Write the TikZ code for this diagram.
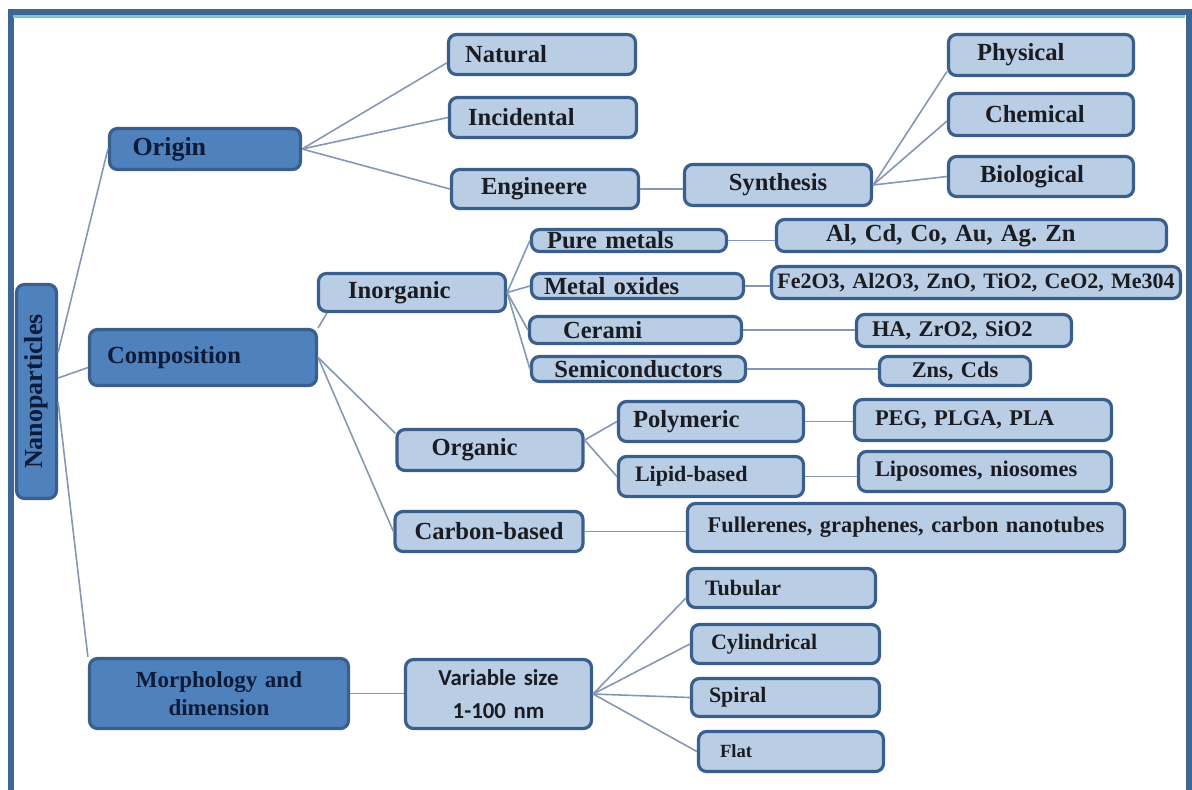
\documentclass[tikz,border=0pt]{standalone}
\usepackage{fontspec}
\setmainfont{Liberation Serif}
\newfontfamily\sanssub{Carlito}
\usepackage{tikz}
\usetikzlibrary{calc}
\frenchspacing

\definecolor{midblue}{HTML}{4F81BD}
\definecolor{paleblue}{HTML}{B9CDE5}
\definecolor{edgeblue}{HTML}{3B5F8C}
\definecolor{wireblue}{HTML}{8497B5}
\definecolor{framedark}{HTML}{3D6597}
\definecolor{frameteal}{HTML}{7EC4CE}
\definecolor{inkdark}{HTML}{1B1C22}
\definecolor{inknavy}{HTML}{0E1B38}

\begin{document}
\begin{tikzpicture}[x=0.5pt, y=-0.5pt,
    box/.style={draw=edgeblue, line width=1.6pt, rounded corners=4pt, inner sep=0pt,
        align=left, text=inkdark, font=\fontsize{12.3}{14}\selectfont\bfseries},
    leaf/.style={box, fill=paleblue},
    branch/.style={box, fill=midblue, text=inknavy},
    small/.style={font=\fontsize{11.2}{13}\selectfont\bfseries},
    wire/.style={draw=wireblue, line width=0.8pt}]
    \useasboundingbox (0,0) rectangle (1192,789);

    % Frame
    \draw[framedark, line width=3pt] (10.5,800) |- (1188.5,12) -- (1188.5,800);
    \draw[frameteal, line width=1.5pt] (13,16.5) -- (1185,16.5);

    % Main branches
    \node[branch, text width=20pt, minimum height=107pt, align=center,
        font=\fontsize{13}{15}\selectfont\bfseries] (np) at (36.5,391.5) {\rotatebox{90}{Nanoparticles}};
    \node[branch, text width=95.5pt, minimum height=20.5pt,
        font=\fontsize{13}{15}\selectfont\bfseries] (orig) at (205,149) {\hspace*{11.5pt}Origin};
    \node[branch, text width=113.5pt, minimum height=28pt] (comp) at (203,357.5) {\hspace*{8.75pt}Composition};
    \node[branch, text width=129.5pt, minimum height=35pt, align=center,
        font=\fontsize{11.5}{14}\selectfont\bfseries] (morph) at (219,693.5) {Morphology and\\dimension};

    % Origin
    \node[leaf, text width=93.5pt, minimum height=20pt] (nat) at (542,54.5) {\hspace*{8.25pt}Natural};
    \node[leaf, text width=93.5pt, minimum height=20pt] (inc) at (543,117.5) {\hspace*{9.25pt}Incidental};
    \node[leaf, text width=93.5pt, minimum height=19.5pt] (eng) at (545,189) {\hspace*{14.75pt}Engineere};
    \node[leaf, text width=93.5pt, minimum height=20.5pt, align=center] (syn) at (778,185) {Synthesis};
    \node[leaf, text width=92.5pt, minimum height=20.5pt] (phys) at (1041,55) {\hspace*{14.25pt}Physical};
    \node[leaf, text width=92.5pt, minimum height=21pt] (chem) at (1041,114.5) {\hspace*{18.25pt}Chemical};
    \node[leaf, text width=92.5pt, minimum height=20pt] (bio) at (1041,176.5) {\hspace*{15.75pt}Biological};

    % Composition: inorganic
    \node[leaf, text width=93.5pt, minimum height=19pt] (inorg) at (412,292.5) {\hspace*{14.75pt}Inorganic};
    \node[leaf, text width=97.5pt, minimum height=11pt] (pure) at (629,240.5) {\hspace*{7.75pt}Pure metals};
    \node[leaf, text width=195pt, minimum height=16pt] (al) at (971.5,235.5) {\hspace*{24.75pt}Al, Cd, Co, Au, Ag. Zn};
    \node[leaf, text width=106pt, minimum height=12.5pt] (metox) at (637.5,286) {\hspace*{6.25pt}Metal oxides};
    \node[leaf, text width=204.5pt, minimum height=16pt, align=center,
        font=\fontsize{11}{13}\selectfont\bfseries] (fe) at (976,282.5) {Fe2O3, Al2O3, ZnO, TiO2, CeO2, Me304};
    \node[leaf, text width=106pt, minimum height=13.5pt] (cer) at (635.5,330) {\hspace*{16.75pt}Cerami};
    \node[leaf, small, text width=107.5pt, minimum height=16pt] (ha) at (964,330.5) {\hspace*{7.75pt}HA, ZrO2, SiO2};
    \node[leaf, text width=107pt, minimum height=12.5pt, align=center] (semi) at (638.5,369) {Semiconductors};
    \node[leaf, small, text width=75.5pt, minimum height=14.5pt, align=center] (zns) at (955,371) {Zns, Cds};

    % Composition: organic and carbon-based
    \node[leaf, text width=93pt, minimum height=20.5pt] (org) at (490,450) {\hspace*{17.25pt}Organic};
    \node[leaf, text width=92.5pt, minimum height=20pt] (poly) at (711,421.5) {\hspace*{7.25pt}Polymeric};
    \node[leaf, text width=92.5pt, minimum height=20pt,
        font=\fontsize{11}{13}\selectfont\bfseries] (lip) at (711,476.5) {\hspace*{8.25pt}Lipid-based};
    \node[leaf, small, text width=128.5pt, minimum height=20.5pt] (peg) at (983,420) {\hspace*{10.25pt}PEG, PLGA, PLA};
    \node[leaf, small, text width=126.5pt, minimum height=20pt] (lipo) at (985,471.5) {\hspace*{8.25pt}Liposomes, niosomes};
    \node[leaf, text width=94pt, minimum height=20pt, align=center] (carb) at (489,531.5) {Carbon-based};
    \node[leaf, small, text width=218.5pt, minimum height=24pt, align=center] (full) at (906,527.5) {Fullerenes, graphenes, carbon nanotubes};

    % Morphology
    \node[leaf, text width=93pt, minimum height=34.5pt, align=center,
        font=\sanssub\fontsize{11.4}{16.5}\selectfont\bfseries] (var) at (498.5,694) {Variable size\\1-100 nm};
    \node[leaf, text width=94pt, minimum height=19.5pt,
        font=\fontsize{11}{13}\selectfont\bfseries] (tub) at (781.5,588) {\hspace*{8.75pt}Tubular};
    \node[leaf, text width=94pt, minimum height=19.5pt,
        font=\fontsize{11}{13}\selectfont\bfseries] (cyl) at (785.5,644) {\hspace*{9.75pt}Cylindrical};
    \node[leaf, text width=94pt, minimum height=19pt,
        font=\fontsize{11}{13}\selectfont\bfseries] (spi) at (785.5,697.5) {\hspace*{8.75pt}Spiral};
    \node[leaf, text width=92.5pt, minimum height=20pt,
        font=\fontsize{9.3}{11}\selectfont\bfseries] (flat) at (791,751.5) {\hspace*{10.75pt}Flat};

    % Connectors from the root
    \draw[wire] (np.61) -- (orig.west);
    \draw[wire] (np.32) -- (comp.185);
    \draw[wire] (np.-26) -- (morph.north west);

    % Origin connectors
    \draw[wire] (orig.east) -- (nat.185);
    \draw[wire] (orig.east) -- (inc.west);
    \draw[wire] (orig.east) -- (eng.west);
    \draw[wire] (eng.east) -- (eng.east -| syn.west);
    \draw[wire] (syn.east) -- (phys.190);
    \draw[wire] (syn.east) -- (chem.184);
    \draw[wire] (syn.east) -- (bio.west);

    % Composition connectors
    \draw[wire] (comp.north east) -- ($(inorg.south west)+(10,0)$);
    \draw[wire] (comp.east) -- (org.170);
    \draw[wire] (comp.east) -- (carb.west);
    \draw[wire] (inorg.east) -- (pure.west);
    \draw[wire] (inorg.east) -- (metox.west);
    \draw[wire] (inorg.east) -- (cer.west);
    \draw[wire] (inorg.east) -- (semi.west);
    \draw[wire] (pure.east) -- (pure.east -| al.west);
    \draw[wire] (metox.east) -- (metox.east -| fe.west);
    \draw[wire] (cer.east) -- (cer.east -| ha.west);
    \draw[wire] (semi.east) -- (semi.east -| zns.west);
    \draw[wire] (org.6) -- (poly.west);
    \draw[wire] (org.6) -- (lip.west);
    \draw[wire] (poly.east) -- (poly.east -| peg.west);
    \draw[wire] (lip.east) -- (lip.east -| lipo.west);
    \draw[wire] (carb.east) -- (carb.east -| full.west);

    % Morphology connectors
    \draw[wire] (morph.east) -- (morph.east -| var.west);
    \draw[wire] (var.east) -- (tub.186);
    \draw[wire] (var.east) -- (cyl.west);
    \draw[wire] (var.east) -- (spi.west);
    \draw[wire] (var.east) -- (flat.west);
\end{tikzpicture}
\end{document}
